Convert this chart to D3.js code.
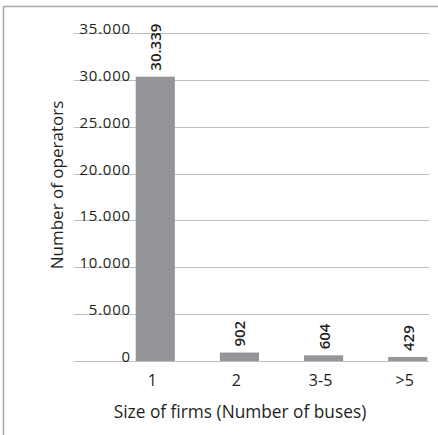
<!DOCTYPE html>
<html>
<head>
<meta charset="utf-8">
<script src="https://cdn.jsdelivr.net/npm/d3@7"></script>
<style>
  body { margin: 0; background: #fff; }
  text { font-family: "Open Sans", Lato, sans-serif; fill: #231f20; }
</style>
</head>
<body>
<div id="chart"></div>
<script>
// firm size categories and number of operators
var categories = ["1", "2", "3-5", ">5"];
var operators = [30339, 902, 604, 429];
var valueLabels = ["30.339", "902", "604", "429"];
var yTicks = [0, 5000, 10000, 15000, 20000, 25000, 30000, 35000];
var yTickLabels = ["0", "5.000", "10.000", "15.000", "20.000", "25.000", "30.000", "35.000"];

var W = 438, H = 435;

var svg = d3.select("#chart").append("svg")
    .attr("width", W)
    .attr("height", H);

// frame (top and left edges only)
svg.append("line").attr("x1", 3.5).attr("x2", W).attr("y1", 6.5).attr("y2", 6.5)
    .style("stroke", "#a7a9ac").style("stroke-width", 1.5);
svg.append("line").attr("x1", 3.5).attr("x2", 3.5).attr("y1", 6).attr("y2", H)
    .style("stroke", "#a7a9ac").style("stroke-width", 1.5);

var y = d3.scaleLinear()
    .domain([0, 35000])
    .range([361, 33]);

var x = d3.scaleBand()
    .domain(categories)
    .range([113, 450])
    .paddingInner(0.535)
    .paddingOuter(0.27);

// gridlines
svg.append("g").selectAll("line")
    .data(yTicks)
    .join("line")
    .attr("x1", 74).attr("x2", 429)
    .attr("y1", function(d) { return Math.round(y(d)) + 0.5; })
    .attr("y2", function(d) { return Math.round(y(d)) + 0.5; })
    .style("stroke", "#bcbec0")
    .style("stroke-width", 1);

// y tick labels, sitting on their gridlines
svg.append("g").selectAll("text")
    .data(yTicks)
    .join("text")
    .attr("x", 131)
    .attr("y", function(d) { return y(d) + 1; })
    .attr("text-anchor", "end")
    .style("font-size", "15px")
    .style("letter-spacing", "0.8px")
    .text(function(d, i) { return yTickLabels[i]; });

// bars
svg.append("g").selectAll("rect")
    .data(operators)
    .join("rect")
    .attr("x", function(d, i) { return x(categories[i]); })
    .attr("width", x.bandwidth())
    .attr("y", function(d) { return y(d); })
    .attr("height", function(d) { return y(0) - y(d); })
    .style("fill", "#939598");

// value labels, rotated
svg.append("g").selectAll("text")
    .data(operators)
    .join("text")
    .attr("transform", function(d, i) {
        var cx = x(categories[i]) + x.bandwidth() / 2 + 6;
        return "translate(" + cx + "," + (y(d) - 6) + ") rotate(-90)";
    })
    .attr("text-anchor", "start")
    .style("font-size", "15px")
    .style("font-weight", "600")
    .text(function(d, i) { return valueLabels[i]; });

// category labels
svg.append("g").selectAll("text")
    .data(categories)
    .join("text")
    .attr("x", function(d) { return x(d) + x.bandwidth() / 2 - 3; })
    .attr("y", 386)
    .attr("text-anchor", "middle")
    .style("font-size", "16px")
    .text(function(d) { return d; });

// axis titles
svg.append("text")
    .attr("x", 240)
    .attr("y", 418)
    .attr("text-anchor", "middle")
    .style("font-size", "17.3px")
    .text("Size of firms (Number of buses)");

svg.append("text")
    .attr("transform", "translate(63,185) rotate(-90)")
    .attr("text-anchor", "middle")
    .style("font-size", "17px")
    .text("Number of operators");
</script>
</body>
</html>
